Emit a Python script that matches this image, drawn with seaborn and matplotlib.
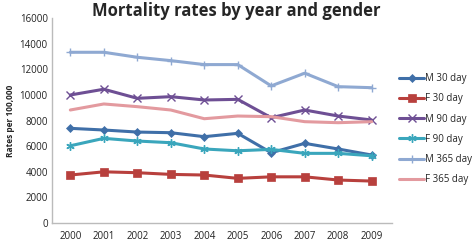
import pandas as pd
import numpy as np
import matplotlib
matplotlib.use("Agg")
import matplotlib.pyplot as plt
import seaborn as sns

sns.set_style("white")
plt.rcParams['font.family'] = ['Open Sans', 'DejaVu Sans']

# Data
years = [2000, 2001, 2002, 2003, 2004, 2005, 2006, 2007, 2008, 2009]
m30 = [7390, 7260, 7100, 7050, 6740, 7000, 5490, 6220, 5780, 5310]
f30 = [3750, 4000, 3930, 3800, 3750, 3490, 3610, 3610, 3360, 3280]
m90 = [9990, 10440, 9730, 9860, 9600, 9650, 8220, 8820, 8350, 8040]
f90 = [6030, 6610, 6400, 6270, 5780, 5640, 5750, 5440, 5440, 5250]
m365 = [13320, 13320, 12930, 12670, 12360, 12360, 10700, 11690, 10640, 10560]
f365 = [8820, 9290, 9080, 8820, 8140, 8350, 8300, 7910, 7830, 7910]
labels = ["M 30 day", "F 30 day", "M 90 day", "F 90 day", "M 365 day", "F 365 day"]

series = [m30, f30, m90, f90, m365, f365]
colors = ["#3F6FA8", "#B8403D", "#6E4F94", "#3AA6BC", "#8FA9D2", "#E39A9F"]
markers = ["D", "s", "x", (6, 2, 0), "+", None]
msizes = [4.5, 6, 6, 6, 6, 0]

fig, ax = plt.subplots(figsize=(4.72, 2.42), dpi=100)
fig.subplots_adjust(left=0.11, right=0.83, bottom=0.078, top=0.926)

for vals, lab, c, m, ms in zip(series, labels, colors, markers, msizes):
    sns.lineplot(x=years, y=vals, ax=ax, color=c, marker=m, markersize=ms,
                 linewidth=2.2, label=lab, markeredgecolor=c,
                 markeredgewidth=1.0 if m in ("x", "+") or isinstance(m, tuple) else 0.5)

ax.set_ylim(0, 16000)
ax.set_yticks(np.arange(0, 16001, 2000))
ax.set_xlim(1999.45, 2009.6)
ax.set_xticks(years)
ax.tick_params(axis='both', labelsize=7, length=0, pad=3, colors="#222222")
ax.tick_params(axis='x', pad=6)
for s in ["top", "right"]:
    ax.spines[s].set_visible(False)
for s in ["left", "bottom"]:
    ax.spines[s].set_color("#BBBBBB")
    ax.spines[s].set_linewidth(1.0)
ax.set_ylabel("Rates per 100,000", fontsize=6, fontweight="bold", labelpad=3)
ax.set_xlabel("")

fig.text(0.5, 0.99, "Mortality rates by year and gender", ha="center", va="top",
         fontsize=12, fontweight="bold")

ax.legend(loc="upper left", bbox_to_anchor=(1.01, 0.75), frameon=False,
          fontsize=7, handlelength=2.6, handletextpad=0.1, labelspacing=0.95,
          borderaxespad=0)

fig.savefig("out.png", dpi=100)
